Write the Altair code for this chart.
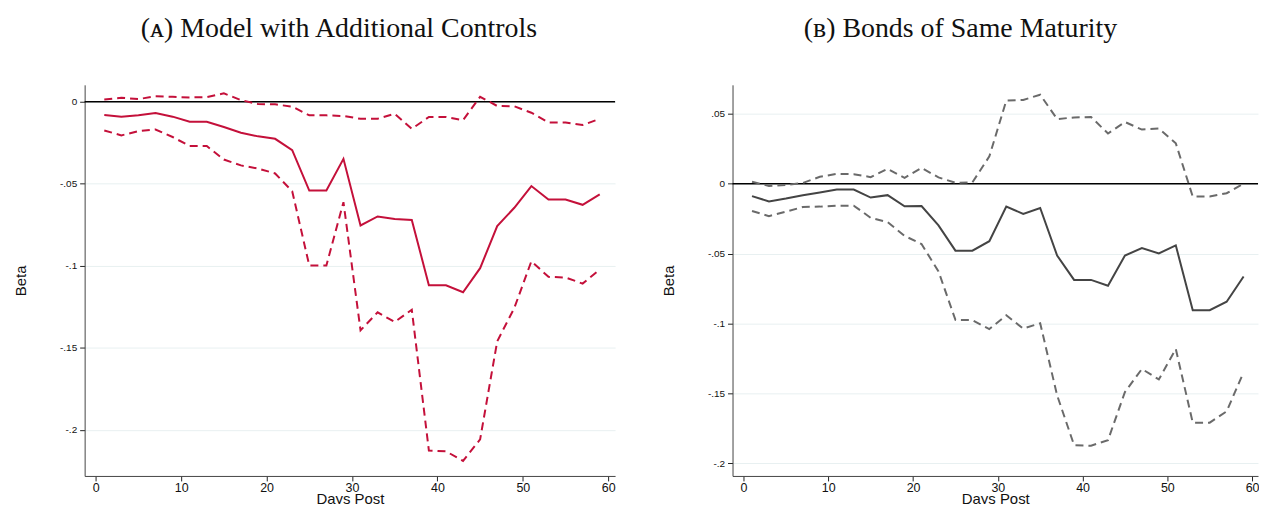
import altair as alt
import pandas as pd

# days after the event (odd days only)
days = list(range(1, 60, 2))

# panel A: model with additional controls
a_est = [-0.0081, -0.0091, -0.0083, -0.0069, -0.0091, -0.0122, -0.0122, -0.0154, -0.0189, -0.0211,
         -0.0226, -0.0295, -0.0541, -0.0541, -0.0348, -0.0754, -0.0699, -0.0715, -0.0720, -0.1118,
         -0.1118, -0.1161, -0.1014, -0.0758, -0.0646, -0.0514, -0.0596, -0.0596, -0.0628, -0.0565]
a_hi = [0.0014, 0.0024, 0.0016, 0.0033, 0.0030, 0.0026, 0.0028, 0.0051, 0.0010, -0.0014,
        -0.0016, -0.0030, -0.0083, -0.0083, -0.0087, -0.0104, -0.0104, -0.0073, -0.0165, -0.0093,
        -0.0093, -0.0112, 0.0030, -0.0026, -0.0028, -0.0067, -0.0126, -0.0126, -0.0142, -0.0104]
a_lo = [-0.0175, -0.0205, -0.0179, -0.0169, -0.0215, -0.0270, -0.0270, -0.0352, -0.0388, -0.0407,
        -0.0437, -0.0545, -0.0998, -0.0998, -0.0612, -0.1393, -0.1283, -0.1342, -0.1267, -0.2125,
        -0.2130, -0.2188, -0.2057, -0.1460, -0.1257, -0.0972, -0.1067, -0.1071, -0.1108, -0.1022]

# panel B: bonds of same maturity
b_est = [-0.0089, -0.0127, -0.0106, -0.0082, -0.0063, -0.0042, -0.0042, -0.0099, -0.0082, -0.0162,
         -0.0160, -0.0298, -0.0479, -0.0479, -0.0411, -0.0164, -0.0216, -0.0174, -0.0514, -0.0688,
         -0.0688, -0.0730, -0.0514, -0.0460, -0.0498, -0.0441, -0.0905, -0.0905, -0.0844, -0.0664]
b_hi = [0.0014, -0.0016, -0.0009, 0.0005, 0.0049, 0.0070, 0.0068, 0.0047, 0.0106, 0.0042,
        0.0113, 0.0045, 0.0007, 0.0009, 0.0195, 0.0594, 0.0599, 0.0636, 0.0462, 0.0474,
        0.0477, 0.0359, 0.0441, 0.0387, 0.0394, 0.0289, -0.0092, -0.0092, -0.0068, 0.0000]
b_lo = [-0.0195, -0.0232, -0.0200, -0.0167, -0.0164, -0.0157, -0.0157, -0.0244, -0.0275, -0.0373,
        -0.0432, -0.0627, -0.0974, -0.0976, -0.1040, -0.0941, -0.1036, -0.0998, -0.1514, -0.1870,
        -0.1874, -0.1834, -0.1490, -0.1325, -0.1400, -0.1182, -0.1709, -0.1709, -0.1628, -0.1348]

a_ticks = [0, -0.05, -0.1, -0.15, -0.2]
b_ticks = [0.05, 0, -0.05, -0.1, -0.15, -0.2]
x_ticks = [0, 10, 20, 30, 40, 50, 60]

# stata-style labels: "-.05" instead of "-0.05"
STATA_FMT = "(datum.value < 0 ? '-' : '') + replace(format(abs(datum.value), '.2~f'), '0.', '.')"


def panel(title, dx, est, hi, lo, ydom, yticks, xmax, width, color, dash_color):
    df = pd.DataFrame({"day": days, "est": est, "hi": hi, "lo": lo})
    x = alt.X(
        "day:Q",
        scale=alt.Scale(domain=[-1.3, xmax], nice=False, zero=False),
        axis=alt.Axis(values=x_ticks, title="Days Post", grid=False, labelFontSize=12.5,
                      titleFontSize=15, titleFontWeight="normal", titlePadding=-3,
                      labelPadding=1, tickSize=5),
    )
    yax = alt.Axis(values=yticks, title="Beta", labelExpr=STATA_FMT, labelFontSize=10,
                   titleFontSize=15, titleFontWeight="normal", titlePadding=31,
                   labelPadding=3, tickSize=5, grid=True, gridColor="#e8f0f1", gridWidth=1)
    yscale = alt.Scale(domain=ydom, nice=False, zero=False)

    base = alt.Chart(df)
    zero = alt.Chart(pd.DataFrame({"z": [0]})).mark_rule(color="black", strokeWidth=1.5).encode(
        y=alt.Y("z:Q", scale=yscale, axis=yax)
    )
    hi_line = base.mark_line(color=dash_color, strokeWidth=2, strokeDash=[8, 5]).encode(
        x=x, y=alt.Y("hi:Q", scale=yscale, axis=yax)
    )
    lo_line = base.mark_line(color=dash_color, strokeWidth=2, strokeDash=[8, 5]).encode(
        x=x, y=alt.Y("lo:Q", scale=yscale, axis=yax)
    )
    est_line = base.mark_line(color=color, strokeWidth=2).encode(
        x=x, y=alt.Y("est:Q", scale=yscale, axis=yax)
    )
    return alt.layer(zero, hi_line, lo_line, est_line).properties(
        width=width,
        height=393,
        title=alt.TitleParams(title, font="Liberation Serif", fontSize=28, fontWeight="normal",
                              color="#111", dx=dx, offset=42, anchor="middle"),
    )


left = panel("(ᴀ) Model with Additional Controls", -11, a_est, a_hi, a_lo,
             [-0.228, 0.0103], a_ticks, 60.8, 533, "#c4103a", "#c4103a")
right = panel("(ʙ) Bonds of Same Maturity", -35, b_est, b_hi, b_lo,
              [-0.209, 0.0707], b_ticks, 60.7, 528, "#444444", "#6a6a6a")

# bottom padding is negative on purpose: as in the original,
# the x-axis titles touch the bottom edge
chart = (
    alt.hconcat(left, right, spacing=45)
    .properties(padding={"left": 5, "top": 6, "right": 0, "bottom": -4})
    .configure_view(stroke=None)
    .configure_axis(
        labelFont="Liberation Sans",
        titleFont="Liberation Sans",
        labelColor="#111",
        titleColor="#111",
        domainColor="#444",
        tickColor="#222",
    )
)

chart.save("out.html", embed_options={"renderer": "svg", "actions": False})
